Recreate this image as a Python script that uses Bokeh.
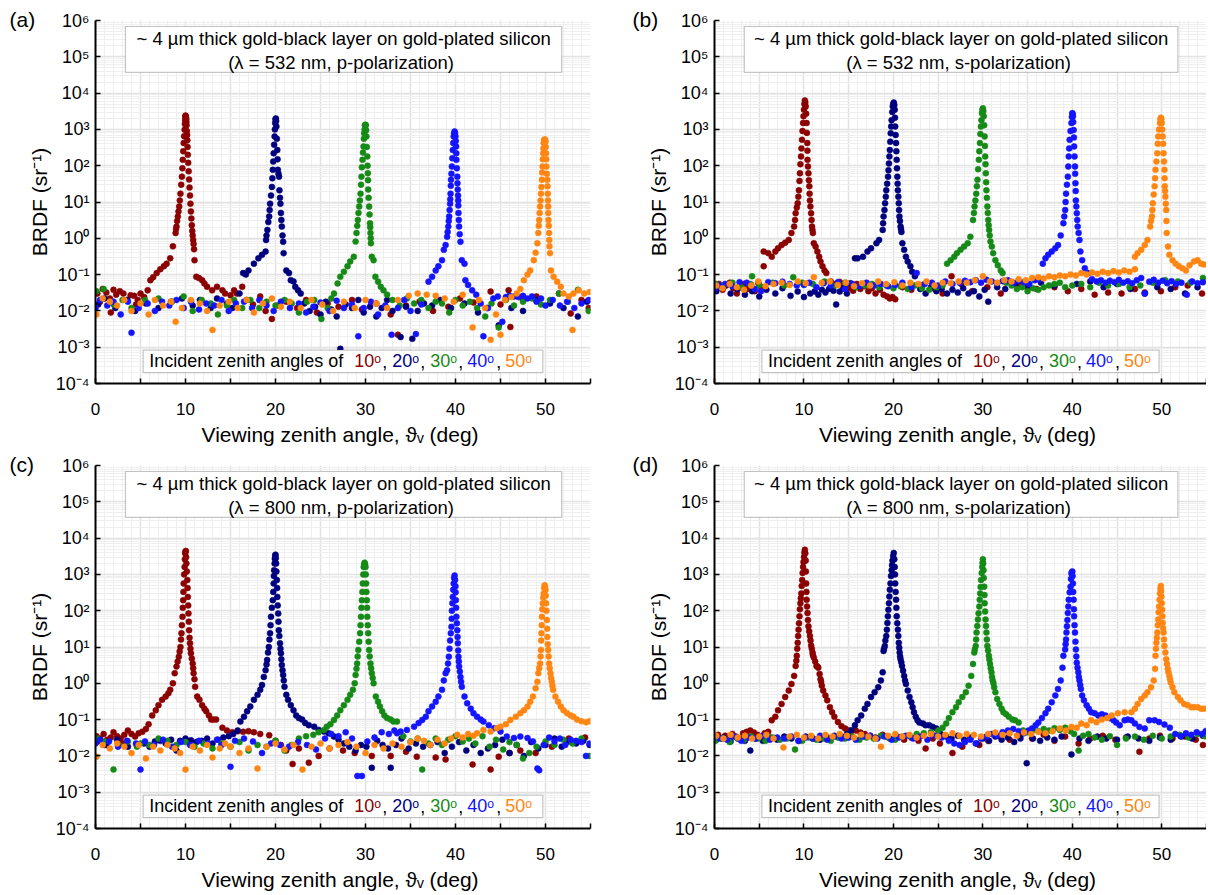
from bokeh.plotting import figure
from bokeh.layouts import column, row
from bokeh.models import FixedTicker, CustomJSTickFormatter, Label, BoxAnnotation, Range1d
from bokeh.embed import file_html
from bokeh.resources import INLINE

FONT = "Liberation Sans"

# ---------------- categories / labels ----------------
incident_angles = ["10ᵒ", "20ᵒ", "30ᵒ", "40ᵒ", "50ᵒ"]
series_colors = ["#8b0000", "#00007f", "#168a16", "#1414ff", "#ff8612"]
panel_letters = ["(a)", "(b)", "(c)", "(d)"]
title_line = "~ 4 µm thick gold-black layer on gold-plated silicon"
panel_conditions = ["(λ = 532 nm,  p-polarization)", "(λ = 532 nm,  s-polarization)",
                    "(λ = 800 nm,  p-polarization)", "(λ = 800 nm,  s-polarization)"]
legend_prefix = "Incident zenith angles of"
x_label = "Viewing zenith angle, ϑᵥ  (deg)"
y_label = "BRDF (sr⁻¹)"
x_tick_values = [0, 5, 10, 15, 20, 25, 30, 35, 40, 45, 50, 55]
x_tick_labels = ["0", "", "10", "", "20", "", "30", "", "40", "", "50", ""]
y_tick_values = [1e-4, 1e-3, 1e-2, 1e-1, 1e0, 1e1, 1e2, 1e3, 1e4, 1e5, 1e6]
y_tick_labels = ["10⁻⁴", "10⁻³", "10⁻²", "10⁻¹", "10⁰", "10¹", "10²", "10³", "10⁴", "10⁵", "10⁶"]

# ---------------- data: (viewing angle deg, BRDF sr^-1) ----------------
# Panel (a): 532 nm, p-polarization
a_10 = [(0.2,0.030),(0.5,0.018),(0.8,0.040),(1.2,0.032),(1.6,0.022),(2.0,0.038),(2.3,0.028),(2.7,0.035),(3.1,0.030),(3.5,0.020),(3.9,0.027),(4.3,0.026),(4.7,0.020),(5.0,0.030),(5.4,0.024),(5.8,0.037),(1.7,0.0090),(4.5,0.015),
        (6.1,0.07),(6.4,0.085),(6.8,0.11),(7.2,0.14),(7.6,0.17),(7.9,0.20),(8.3,0.28),(8.6,0.60),
        (8.9,1.4),(9.0,2.1),(9.15,4.0),(9.3,7.5),(9.44,17),(9.6,50),(9.7,145),(9.8,420),(9.9,980),(9.96,1800),(10.0,2400),(10.05,2100),(10.1,1600),(10.15,900),(10.2,500),(10.26,200),(10.35,70),(10.45,25),(10.55,9),(10.65,3.5),(10.75,1.6),(10.85,0.9),(10.95,0.5),
        (11.0,0.25),(11.2,0.087),(11.5,0.08),(11.85,0.07),(12.1,0.057),(12.4,0.046),(12.96,0.037),(13.5,0.046),(14.1,0.037),(14.4,0.03),(15.0,0.027),(15.4,0.037),(15.7,0.03),(16.3,0.046),(16.8,0.02),
        (17.5,0.015),(18.3,0.025),(18.9,0.010),(19.6,0.006),(20.3,0.014),(21.2,0.018),(22.4,0.012),(23.4,0.020),(24.6,0.009),(25.8,0.016),(27.0,0.013),(28.5,0.020),(29.6,0.011),(31.2,0.016),(32.8,0.008),(33.6,0.0022),(34.5,0.014),(36.0,0.018),(37.5,0.010),(39.2,0.013),(40.5,0.022),(42.0,0.017),(43.9,0.034),(45.0,0.015),(45.9,0.037),(46.1,0.0036),(47.5,0.020),(49.0,0.025),(51.5,0.030),(52.8,0.0085),(54.0,0.020),(54.8,0.012)]
a_10_core = [(8.95,1.8),(9.07,3.0),(9.22,5.5),(9.37,11),(9.52,30),(9.65,85),(9.75,250),(9.85,650),(9.93,1400),(9.98,2200),(10.03,2300),(10.08,1900),(10.12,1300),(10.18,700),(10.23,330),(10.3,120),(10.4,42),(10.5,15),(10.6,5.5),(10.7,2.3),(10.8,1.2),(10.9,0.7)]
a_20 = [(0.3,0.015),(1.0,0.022),(2.2,0.012),(3.5,0.020),(4.4,0.010),(5.6,0.016),(7.0,0.012),(8.4,0.018),(9.6,0.022),(10.8,0.014),(11.6,0.020),(12.8,0.012),(13.5,0.022),(14.6,0.016),(15.2,0.012),
        (16.0,0.03),(16.4,0.11),(16.7,0.10),(17.0,0.13),(17.6,0.20),(18.1,0.28),(18.5,0.35),(18.9,0.43),
        (18.95,0.9),(19.1,1.7),(19.3,4.0),(19.4,9),(19.6,26),(19.7,77),(19.8,220),(19.9,640),(19.96,1500),(20.04,2000),(20.1,1200),(20.2,270),(20.26,77),(20.4,50),(20.44,21),(20.55,9),(20.6,5),(20.7,2.1),(20.85,0.8),(20.9,0.39),
        (21.2,0.13),(21.5,0.11),(21.7,0.07),(22.0,0.065),(22.2,0.046),(22.5,0.037),(22.8,0.030),
        (23.2,0.016),(23.8,0.010),(24.4,0.013),(25.0,0.008),(25.6,0.018),(26.2,0.011),(26.8,0.007),(27.2,0.0009),(27.8,0.015),(28.5,0.012),(29.2,0.020),(29.8,0.009),(30.5,0.013),(31.2,0.007),(31.8,0.012),(32.4,0.020),(33.0,0.010),(33.9,0.0019),(34.5,0.013),(35.2,0.0017),(35.8,0.010),(36.5,0.016),(37.4,0.014),(38.3,0.020),(39.5,0.012),(41.0,0.016),(42.5,0.009),(43.5,0.012),(44.8,0.004),(46.2,0.012),(47.5,0.010),(49.0,0.020),(50.5,0.016),(52.0,0.012),(53.6,0.007),(54.6,0.018)]
a_20_core = [(19.0,1.2),(19.2,2.8),(19.35,6),(19.5,15),(19.65,45),(19.75,130),(19.85,380),(19.93,1000),(20.0,1900),(20.07,1700),(20.15,550),(20.23,150),(20.33,60),(20.5,13),(20.65,3.2),(20.78,1.2)]
a_30 = [(0.1,0.035),(0.9,0.040),(2.0,0.015),(3.0,0.020),(4.0,0.012),(5.5,0.020),(7.0,0.022),(8.5,0.018),(9.8,0.025),(10.8,0.010),(11.8,0.020),(12.8,0.016),(13.6,0.008),(14.6,0.014),(15.4,0.020),(16.3,0.012),(17.2,0.020),(18.2,0.012),(19.0,0.018),(20.0,0.014),(21.0,0.020),(21.8,0.016),(22.6,0.009),(23.5,0.018),(24.3,0.020),(25.1,0.006),(25.8,0.012),(26.2,0.022),
        (26.5,0.03),(26.9,0.057),(27.2,0.087),(27.6,0.12),(28.0,0.17),(28.3,0.23),(28.7,0.31),(28.9,0.81),
        (29.0,1.4),(29.15,3.2),(29.3,7.5),(29.45,17),(29.55,50),(29.67,145),(29.78,340),(29.85,780),(29.93,1300),(30.04,1300),(30.1,640),(30.2,180),(30.26,62),(30.3,22),(30.4,7.5),(30.5,2.6),(30.55,1.4),(30.6,0.73),(30.7,0.31),
        (30.9,0.25),(31.1,0.087),(31.4,0.064),(31.7,0.046),(32.0,0.037),(32.4,0.028),
        (33.0,0.020),(33.8,0.014),(34.6,0.022),(35.4,0.016),(36.2,0.020),(37.0,0.012),(37.8,0.018),(38.5,0.016),(39.3,0.009),(40.0,0.020),(40.8,0.014),(41.6,0.018),(42.4,0.012),(43.3,0.007),(44.0,0.016),(44.8,0.0035),(45.6,0.020),(46.5,0.014),(47.5,0.018),(48.5,0.022),(49.5,0.015),(50.5,0.020),(51.5,0.030),(52.5,0.018),(53.6,0.038),(54.8,0.010)]
a_30_core = [(29.08,2.2),(29.22,5),(29.38,11),(29.5,30),(29.6,90),(29.72,230),(29.82,550),(29.9,1000),(29.98,1350),(30.07,950),(30.15,330),(30.23,100),(30.28,40),(30.35,13),(30.45,4.5),(30.52,2.0),(30.58,1.0)]
a_40 = [(0.0,0.012),(0.5,0.020),(1.3,0.014),(2.0,0.018),(2.8,0.008),(3.6,0.018),(4.0,0.0025),(4.8,0.012),(5.8,0.016),(6.6,0.010),(7.4,0.018),(8.2,0.014),(9.0,0.020),(9.8,0.012),(10.6,0.018),(11.5,0.011),(12.3,0.016),(13.2,0.014),(14.0,0.020),(14.8,0.010),(15.6,0.016),(16.5,0.018),(17.4,0.012),(18.2,0.020),(19.0,0.014),(19.8,0.010),(20.6,0.018),(21.6,0.012),(22.6,0.016),(23.4,0.009),(24.2,0.013),(25.0,0.017),(26.0,0.010),(26.8,0.019),(27.6,0.012),(28.5,0.015),(29.2,0.0020),(29.8,0.012),(30.6,0.018),(31.4,0.008),(32.2,0.014),(32.9,0.0022),(33.6,0.012),(34.3,0.020),(35.0,0.010),(35.6,0.0023),(36.2,0.015),
        (37.0,0.064),(37.4,0.087),(37.8,0.13),(38.1,0.17),(38.5,0.25),(38.7,0.48),(38.9,0.65),
        (39.07,1.1),(39.2,2.1),(39.3,4),(39.4,9),(39.45,17),(39.5,41),(39.6,95),(39.7,270),(39.8,640),(39.9,880),(40.0,640),(40.07,340),(40.1,145),(40.2,50),(40.25,22),(40.3,11),(40.33,5),(40.4,2.1),(40.55,0.8),(40.7,0.25),
        (41.0,0.20),(41.1,0.07),(41.4,0.052),(41.85,0.037),(42.3,0.028),
        (42.8,0.016),(43.1,0.0020),(43.6,0.012),(44.2,0.022),(44.7,0.025),(45.2,0.005),(45.6,0.024),(46.0,0.026),(46.5,0.025),(47.0,0.024),(47.5,0.026),(48.0,0.022),(48.5,0.025),(49.0,0.018),(49.5,0.022),(50.0,0.014),(50.8,0.020),(51.6,0.014),(52.4,0.018),(53.2,0.012),(54.0,0.016),(54.8,0.020)]
a_40_core = [(39.13,1.5),(39.25,3),(39.35,6),(39.42,12),(39.48,28),(39.55,60),(39.65,160),(39.75,420),(39.85,780),(39.95,800),(40.03,480),(40.09,220),(40.15,85),(40.22,33),(40.28,15),(40.31,8),(40.37,3.2),(40.47,1.3)]
a_50 = [(0.1,0.008),(0.8,0.022),(1.6,0.018),(2.4,0.014),(3.2,0.020),(4.0,0.010),(5.0,0.016),(5.9,0.008),(6.6,0.020),(7.5,0.014),(8.4,0.018),(8.9,0.005),(9.6,0.012),(10.6,0.020),(11.6,0.016),(12.4,0.010),(13.0,0.0030),(13.8,0.014),(14.8,0.018),(15.8,0.012),(16.8,0.020),(17.6,0.009),(18.6,0.016),(19.6,0.022),(20.6,0.013),(21.6,0.018),(22.8,0.012),(24.0,0.020),(25.2,0.015),(26.4,0.010),(27.6,0.018),(28.8,0.012),(30.0,0.020),(31.2,0.016),(32.4,0.012),(33.6,0.020),(34.8,0.026),(35.8,0.030),(36.8,0.028),(37.8,0.026),(38.8,0.022),(39.8,0.018),(40.8,0.028),(41.9,0.0035),(42.6,0.020),(43.3,0.012),(43.9,0.0016),(44.5,0.008),(45.0,0.0022),(45.5,0.020),(46.2,0.024),(46.8,0.030),(47.2,0.040),
        (47.6,0.07),(48.0,0.10),(48.3,0.13),(48.7,0.25),(48.9,0.40),(49.1,0.73),
        (49.2,1.4),(49.3,3.2),(49.4,7.5),(49.5,17),(49.6,41),(49.67,95),(49.74,220),(49.8,420),(49.9,530),(50.0,460),(50.07,220),(50.1,95),(50.2,41),(50.26,17),(50.3,7.5),(50.33,3.2),(50.4,1.4),(50.44,0.6),(50.5,0.39),(50.6,0.13),
        (50.9,0.087),(51.3,0.064),(51.7,0.046),(52.0,0.030),(52.6,0.025),(53.1,0.030),(53.7,0.037),(54.3,0.030),(54.9,0.033),(53.0,0.003)]
a_50_core = [(49.25,2.2),(49.35,5),(49.45,11),(49.55,26),(49.63,65),(49.7,150),(49.77,300),(49.85,500),(49.95,520),(50.03,330),(50.09,150),(50.15,60),(50.23,27),(50.28,11),(50.31,5),(50.37,2.2),(50.42,0.9)]

# Panel (b): 532 nm, s-polarization
b_10 = [(0.1,0.045),(0.5,0.055),(0.9,0.038),(1.3,0.050),(1.7,0.060),(2.1,0.042),(2.5,0.030),(2.9,0.048),(3.3,0.055),(3.7,0.040),(4.1,0.052),(4.5,0.035),(4.9,0.058),(5.2,0.046),
        (5.5,0.17),(5.5,0.43),(6.0,0.39),(6.4,0.31),(6.8,0.43),(7.1,0.53),(7.5,0.65),(7.9,0.76),(8.3,0.9),(8.6,1.4),(8.9,2.1),
        (9.07,4.9),(9.3,9.2),(9.44,21),(9.55,62),(9.67,180),(9.78,515),(9.9,1500),(10.0,3500),(10.1,6300),(10.2,4300),(10.3,1500),(10.37,420),(10.4,145),(10.5,62),(10.6,27),(10.67,11),(10.8,4.9),(10.9,2.1),(11.0,1.4),(11.1,0.73),(11.3,0.59),(11.5,0.43),(11.7,0.31),(11.85,0.23),(12.07,0.17),(12.3,0.13),(12.5,0.11),
        (13.0,0.065),(13.5,0.055),(14.0,0.063),(14.4,0.050),(14.8,0.042),(15.1,0.043),(15.5,0.036),(15.9,0.055),(16.3,0.040),(16.8,0.048),(17.2,0.035),(17.6,0.042),(18.0,0.030),(18.5,0.038),(18.9,0.028),(19.3,0.025),(19.6,0.022),(19.9,0.024),(20.2,0.021),(21.0,0.045),(22.0,0.038),(23.2,0.050),(24.5,0.042),(25.5,0.030),(26.5,0.090),(27.6,0.055),(28.8,0.035),(30.5,0.045),(32.0,0.030),(34.0,0.055),(36.0,0.040),(38.0,0.045),(39.5,0.035),(41.0,0.040),(42.5,0.028),(44.0,0.032),(45.5,0.030),(47.0,0.040),(48.1,0.032),(49.9,0.035),(51.5,0.045),(52.9,0.050),(54.5,0.030)]
b_10_core = [(9.0,3.2),(9.2,7),(9.37,14),(9.5,38),(9.6,110),(9.72,300),(9.84,900),(9.95,2300),(10.05,5000),(10.15,5500),(10.25,2700),(10.33,800),(10.39,260),(10.45,95),(10.55,40),(10.63,17),(10.72,7.5),(10.85,3.2),(10.95,1.7)]
b_20 = [(0.2,0.035),(1.0,0.045),(1.8,0.030),(2.6,0.040),(3.4,0.028),(4.2,0.035),(5.0,0.025),(5.8,0.038),(6.8,0.030),(7.6,0.042),(8.5,0.026),(9.3,0.034),(10.0,0.024),(10.7,0.030),(11.2,0.034),(11.6,0.028),(12.0,0.038),(12.4,0.032),(12.8,0.040),(13.3,0.036),(13.6,0.015),(14.0,0.034),(14.4,0.042),(14.8,0.030),(15.2,0.058),
        (15.7,0.28),(16.0,0.28),(16.6,0.31),(17.1,0.43),(17.5,0.53),(18.1,0.73),(18.4,0.9),(18.8,1.7),
        (18.9,4),(19.07,9.2),(19.2,21),(19.4,50),(19.5,115),(19.6,270),(19.7,780),(19.8,1800),(19.93,4300),(20.04,5500),(20.15,3500),(20.2,1200),(20.3,420),(20.37,145),(20.44,50),(20.5,21),(20.6,9.2),(20.67,4),(20.8,2.1),(20.9,1.5),(21.0,0.73),(21.2,0.48),(21.4,0.31),(21.6,0.23),(21.9,0.17),(22.1,0.12),(22.4,0.09),
        (23.0,0.040),(23.6,0.030),(24.2,0.045),(24.8,0.035),(25.4,0.040),(26.0,0.030),(26.6,0.038),(27.2,0.032),(27.8,0.042),(28.4,0.030),(29.0,0.035),(29.6,0.025),(30.2,0.038),(30.6,0.018),(31.6,0.045),(32.5,0.040),(33.6,0.055),(35.0,0.045),(36.5,0.060),(38.0,0.050),(40.5,0.055),(42.0,0.065),(43.5,0.045),(45.0,0.055),(46.5,0.040),(48.1,0.030),(49.5,0.045),(51.0,0.040),(52.6,0.030),(54.0,0.045)]
b_20_core = [(18.85,2.6),(19.0,6),(19.15,14),(19.3,32),(19.45,75),(19.55,180),(19.65,460),(19.75,1200),(19.87,3000),(19.98,5000),(20.1,4700),(20.18,2100),(20.25,700),(20.33,250),(20.4,85),(20.47,32),(20.55,14),(20.63,6),(20.73,3),(20.85,1.8)]
b_30 = [(0.2,0.055),(1.0,0.050),(2.0,0.060),(3.0,0.045),(4.0,0.055),(4.2,0.090),(5.0,0.052),(6.5,0.060),(7.8,0.050),(8.8,0.085),(9.8,0.060),(11.0,0.055),(12.3,0.065),(13.5,0.050),(14.6,0.060),(15.8,0.045),(16.8,0.050),(17.6,0.055),(18.4,0.045),(19.2,0.050),(20.0,0.042),(20.8,0.048),(21.6,0.040),(22.4,0.050),(23.2,0.042),(24.0,0.038),(24.8,0.045),(25.5,0.050),
        (26.0,0.20),(26.4,0.25),(26.8,0.31),(27.1,0.39),(27.5,0.48),(27.9,0.59),(28.3,0.73),(28.6,1.1),(28.9,3.2),
        (29.07,7.5),(29.26,17),(29.4,41),(29.55,145),(29.67,420),(29.78,1200),(29.9,2800),(30.0,3800),(30.1,2300),(30.2,640),(30.26,180),(30.33,62),(30.4,21),(30.5,7.5),(30.6,3.2),(30.7,1.7),(30.85,0.81),(31.0,0.59),(31.15,0.39),(31.4,0.25),(31.67,0.18),(32.0,0.13),(32.2,0.11),
        (32.6,0.060),(33.2,0.050),(33.8,0.040),(34.4,0.045),(35.0,0.035),(35.6,0.042),(36.2,0.038),(36.8,0.045),(37.4,0.050),(38.0,0.055),(38.6,0.060),(39.2,0.045),(40.0,0.050),(41.0,0.055),(42.0,0.045),(43.0,0.060),(44.0,0.050),(45.2,0.055),(46.4,0.045),(47.6,0.050),(49.0,0.060),(50.4,0.070),(51.8,0.065),(53.2,0.060),(54.6,0.080)]
b_30_core = [(29.0,5),(29.16,11),(29.33,27),(29.47,80),(29.6,250),(29.72,750),(29.84,1800),(29.95,3400),(30.05,3200),(30.15,1300),(30.23,350),(30.3,110),(30.37,35),(30.45,13),(30.55,5),(30.65,2.3),(30.77,1.2)]
b_40 = [(0.0,0.040),(0.5,0.050),(1.2,0.055),(2.0,0.048),(2.8,0.062),(3.6,0.060),(4.5,0.040),(5.2,0.035),(6.0,0.062),(6.8,0.058),(7.6,0.064),(8.4,0.055),(9.2,0.050),(10.0,0.052),(10.6,0.060),(11.4,0.045),(12.2,0.058),(13.0,0.050),(13.8,0.062),(14.6,0.040),(15.4,0.055),(16.2,0.048),(17.0,0.060),(17.8,0.050),(18.6,0.055),(19.4,0.048),(20.2,0.052),(21.0,0.060),(22.0,0.045),(22.6,0.11),(23.5,0.055),(24.3,0.060),(25.0,0.050),(25.8,0.065),(26.6,0.055),(27.4,0.060),(28.0,0.068),(28.6,0.062),(29.2,0.070),(29.8,0.060),(30.4,0.072),(31.0,0.065),(31.6,0.058),(32.2,0.066),(32.8,0.070),(33.4,0.060),(34.0,0.068),(34.6,0.062),(35.2,0.055),(35.8,0.070),(36.3,0.072),
        (36.7,0.20),(37.0,0.28),(37.3,0.35),(37.7,0.43),(38.1,0.53),(38.4,0.65),(38.7,1.2),(39.0,2.6),
        (39.2,6),(39.3,17),(39.5,50),(39.6,180),(39.7,515),(39.9,1500),(40.0,2800),(40.07,2300),(40.15,960),(40.2,340),(40.3,95),(40.35,33),(40.4,11),(40.5,4.9),(40.6,2.1),(40.8,0.9),(40.9,0.43),(41.1,0.25),(41.4,0.15),(41.8,0.11),
        (42.2,0.075),(42.7,0.065),(43.2,0.070),(43.7,0.060),(44.2,0.068),(44.7,0.062),(45.2,0.072),(45.7,0.060),(46.2,0.066),(46.7,0.058),(47.2,0.070),(47.7,0.080),(48.1,0.030),(48.6,0.064),(49.1,0.072),(49.6,0.060),(50.1,0.068),(50.6,0.058),(51.1,0.066),(51.6,0.055),(52.2,0.060),(52.8,0.028),(53.4,0.065),(54.0,0.058),(54.6,0.062)]
b_40_core = [(39.1,4),(39.25,10),(39.4,30),(39.55,95),(39.65,300),(39.8,900),(39.95,2200),(40.03,2700),(40.1,1600),(40.18,600),(40.25,180),(40.32,60),(40.38,20),(40.45,7.5),(40.55,3.2),(40.7,1.4)]
b_50 = [(0.2,0.050),(0.9,0.042),(1.7,0.055),(2.5,0.045),(3.3,0.038),(4.1,0.050),(4.9,0.065),(5.7,0.048),(6.6,0.055),(7.5,0.060),(8.4,0.052),(9.3,0.065),(10.2,0.058),(11.1,0.085),(12.0,0.060),(12.9,0.065),(13.8,0.052),(14.7,0.060),(15.6,0.048),(16.5,0.058),(17.4,0.050),(18.3,0.065),(19.2,0.055),(20.1,0.062),(21.0,0.050),(21.9,0.060),(22.8,0.055),(23.7,0.065),(24.6,0.050),(25.5,0.060),(26.4,0.058),(27.3,0.065),(28.2,0.060),(29.1,0.070),(30.0,0.090),(30.8,0.065),(31.6,0.060),(32.4,0.070),(33.2,0.065),(34.0,0.075),(34.8,0.070),(35.5,0.080),(36.2,0.085),(36.8,0.078),(37.4,0.090),(38.0,0.085),(38.6,0.095),(39.2,0.090),(39.8,0.100),(40.4,0.095),(41.0,0.110),(41.6,0.100),(42.2,0.115),(42.8,0.105),(43.4,0.120),(44.0,0.110),(44.6,0.125),(45.2,0.115),(45.8,0.130),(46.4,0.120),(47.0,0.140),
        (47.0,0.31),(47.3,0.39),(47.7,0.48),(48.1,0.65),(48.4,0.9),(48.7,2.1),
        (48.9,4),(49.0,9.2),(49.2,27),(49.3,77),(49.5,220),(49.6,640),(49.8,1500),(49.9,2100),(50.0,1500),(50.1,640),(50.2,220),(50.3,77),(50.33,27),(50.4,14),(50.5,6),(50.55,1.4),(50.7,0.59),(50.85,0.35),(51.2,0.25),(51.55,0.2),(51.9,0.17),(52.3,0.15),(52.7,0.13),(53.1,0.18),(53.6,0.23),(54.0,0.25),(54.4,0.2),(54.7,0.19)]
b_50_core = [(48.8,3),(48.95,6),(49.1,16),(49.25,45),(49.4,130),(49.55,400),(49.7,1000),(49.85,1900),(49.95,1900),(50.05,1000),(50.15,400),(50.25,130),(50.31,45),(50.37,20),(50.45,9),(50.52,3)]

# Panel (c): 800 nm, p-polarization
c_10 = [(0.1,0.035),(0.5,0.030),(0.9,0.040),(1.3,0.028),(1.7,0.032),(2.0,0.045),(2.4,0.035),(2.8,0.030),(3.2,0.038),(3.6,0.050),(4.0,0.040),(4.4,0.034),(4.8,0.042),(5.2,0.046),(5.6,0.055),(1.0,0.020),(3.0,0.022),
        (5.9,0.074),(6.3,0.13),(6.7,0.18),(7.0,0.25),(7.4,0.35),(7.8,0.43),(8.1,0.53),(8.3,0.66),(8.6,1.0),(8.8,1.9),(9.0,2.9),
        (9.26,5.4),(9.44,10),(9.55,24),(9.67,68),(9.74,195),(9.8,560),(9.9,1600),(9.96,3800),(10.04,4400),(10.1,2000),(10.2,700),(10.26,240),(10.33,84),(10.4,29),(10.5,12.6),(10.6,6.7),(10.8,3.5),(10.9,1.9),(11.07,0.8),(11.3,0.43),(11.55,0.35),(11.85,0.25),(12.1,0.2),(12.3,0.17),(12.6,0.13),(12.85,0.10),(13.1,0.10),(13.4,0.10),
        (14.1,0.060),(14.6,0.050),(15.2,0.045),(15.8,0.048),(16.4,0.046),(17.0,0.048),(17.6,0.045),(18.3,0.040),(19.3,0.037),(20.0,0.026),(20.6,0.020),(21.2,0.014),(21.9,0.0060),(22.6,0.016),(23.7,0.0065),(24.8,0.010),(26.0,0.016),(27.5,0.014),(28.8,0.012),(30.7,0.010),(32.8,0.010),(34.5,0.013),(35.7,0.0095),(37.8,0.009),(38.9,0.008),(41.9,0.0058),(43.9,0.0042),(44.8,0.0095),(46.0,0.012),(47.2,0.014),(48.9,0.012),(50.7,0.018),(52.6,0.030),(54.4,0.032)]
c_10_core = [(9.13,4),(9.35,7.5),(9.5,16),(9.6,40),(9.7,120),(9.77,330),(9.85,1000),(9.93,2600),(10.0,4300),(10.07,3000),(10.15,1200),(10.23,420),(10.3,140),(10.37,50),(10.45,18),(10.55,9),(10.7,4.8),(10.85,2.6),(11.0,1.3)]
c_20 = [(0.2,0.025),(1.2,0.020),(2.4,0.028),(3.6,0.018),(4.6,0.020),(5.4,0.022),(6.0,0.018),(6.6,0.025),(7.2,0.026),(7.8,0.022),(8.4,0.028),(9.0,0.014),(9.4,0.026),(10.0,0.030),(10.6,0.027),(11.2,0.024),(11.8,0.026),(12.4,0.030),(13.0,0.022),(13.6,0.028),(14.2,0.032),(14.8,0.035),(15.3,0.040),(15.8,0.050),
        (16.1,0.088),(16.5,0.12),(16.85,0.17),(17.2,0.23),(17.6,0.35),(18.0,0.48),(18.3,0.66),(18.5,0.9),(18.7,1.5),(18.9,2.3),
        (19.07,4.4),(19.26,10),(19.4,24),(19.5,68),(19.7,195),(19.8,560),(19.85,1300),(19.93,2700),(20.0,3500),(20.07,2000),(20.15,700),(20.2,240),(20.3,84),(20.37,29),(20.5,12.6),(20.6,6.7),(20.7,3.2),(20.85,1.7),(21.0,0.8),(21.2,0.48),(21.4,0.35),(21.7,0.25),(22.0,0.18),(22.3,0.13),(22.6,0.11),(22.96,0.10),(23.3,0.08),(23.7,0.07),(24.3,0.064),(24.8,0.052),(25.4,0.047),(25.9,0.042),(26.5,0.034),(27.0,0.028),(27.6,0.022),(28.2,0.018),
        (28.9,0.014),(29.5,0.020),(30.1,0.018),(30.7,0.0047),(31.3,0.026),(31.9,0.020),(32.5,0.016),(32.8,0.0047),(33.4,0.020),(34.0,0.030),(34.8,0.016),(35.6,0.022),(36.4,0.018),(37.2,0.020),(38.0,0.024),(38.8,0.012),(39.6,0.018),(40.4,0.024),(41.2,0.014),(42.0,0.020),(42.8,0.012),(43.6,0.016),(44.4,0.020),(45.2,0.028),(46.0,0.012),(46.8,0.020),(47.6,0.010),(48.4,0.024),(49.2,0.016),(50.0,0.020),(51.0,0.030),(51.8,0.018),(52.6,0.025),(53.4,0.022),(54.2,0.026),(54.9,0.020)]
c_20_core = [(19.0,3.3),(19.17,7),(19.33,16),(19.45,40),(19.6,120),(19.75,330),(19.82,900),(19.9,2000),(19.97,3300),(20.03,2800),(20.1,1200),(20.18,420),(20.25,140),(20.33,50),(20.43,20),(20.55,9),(20.65,4.6),(20.78,2.3),(20.92,1.2)]
c_30 = [(0.2,0.030),(1.0,0.025),(2.0,0.0042),(2.6,0.020),(3.6,0.025),(4.6,0.018),(5.0,0.022),(6.0,0.020),(7.0,0.030),(8.0,0.026),(9.0,0.020),(10.0,0.024),(11.0,0.018),(12.0,0.022),(13.0,0.016),(14.0,0.022),(15.0,0.018),(16.0,0.024),(17.0,0.014),(18.0,0.020),(19.0,0.018),(20.0,0.026),(21.0,0.014),(21.8,0.020),(22.6,0.030),(23.4,0.035),(24.2,0.038),(24.8,0.045),
        (25.4,0.052),(25.7,0.064),(26.1,0.075),(26.5,0.098),(26.85,0.13),(27.2,0.18),(27.6,0.25),(28.0,0.35),(28.3,0.48),(28.6,0.66),(28.8,1.0),(28.9,1.7),
        (29.07,3.5),(29.2,8.3),(29.4,24),(29.5,68),(29.6,195),(29.7,560),(29.8,1600),(29.9,2100),(30.0,1600),(30.07,560),(30.15,195),(30.2,68),(30.3,24),(30.4,8.3),(30.55,3.5),(30.7,1.9),(30.9,1.0),(31.15,0.43),(31.4,0.31),(31.6,0.23),(31.85,0.17),(32.1,0.13),(32.4,0.11),(32.8,0.10),(33.1,0.088),(33.5,0.088),
        (34.2,0.035),(35.0,0.025),(35.8,0.030),(36.3,0.0042),(37.0,0.022),(37.8,0.030),(38.5,0.020),(39.2,0.028),(40.0,0.035),(40.8,0.025),(41.5,0.030),(42.2,0.022),(43.0,0.035),(43.8,0.018),(44.5,0.028),(45.3,0.015),(46.0,0.024),(46.8,0.020),(47.5,0.0085),(48.2,0.012),(49.0,0.018),(50.0,0.025),(51.0,0.020),(52.0,0.028),(53.0,0.022),(54.0,0.030),(54.9,0.010)]
c_30_core = [(29.0,2.5),(29.13,5.5),(29.3,14),(29.45,40),(29.55,120),(29.65,330),(29.75,1000),(29.85,1900),(29.95,1900),(30.03,1000),(30.1,330),(30.18,120),(30.25,40),(30.35,14),(30.47,5.5),(30.62,2.6),(30.8,1.4)]
c_40 = [(0.0,0.022),(0.5,0.028),(1.5,0.025),(2.5,0.018),(3.5,0.026),(4.5,0.022),(5.0,0.0042),(5.5,0.025),(6.5,0.020),(7.5,0.028),(8.5,0.018),(9.5,0.024),(10.5,0.020),(11.5,0.026),(12.5,0.022),(13.5,0.028),(14.0,0.020),(15.0,0.0050),(15.5,0.026),(16.5,0.030),(17.5,0.025),(18.5,0.012),(19.5,0.022),(20.5,0.020),(21.5,0.018),(22.5,0.024),(23.5,0.020),(24.5,0.015),(25.5,0.030),(26.2,0.040),(27.0,0.035),(27.8,0.045),(28.5,0.030),(29.1,0.0028),(29.6,0.0028),(30.2,0.025),(31.0,0.032),(31.8,0.045),(32.6,0.040),(33.2,0.050),
        (33.5,0.042),(33.9,0.047),(34.6,0.052),(35.4,0.064),(35.9,0.08),(36.3,0.098),(36.7,0.12),(37.0,0.17),(37.4,0.23),(37.8,0.31),(38.1,0.43),(38.5,0.66),(38.7,1.2),(38.9,1.9),(39.07,2.3),
        (39.26,5.4),(39.4,15),(39.55,36),(39.6,100),(39.7,240),(39.8,560),(39.9,930),(40.0,470),(40.04,195),(40.1,68),(40.2,29),(40.26,12.6),(40.33,5.4),(40.4,2.9),(40.55,1.5),(40.7,0.8),(41.0,0.43),(41.3,0.28),(41.7,0.2),(42.0,0.15),(42.4,0.12),(42.8,0.10),(43.1,0.088),(43.7,0.07),(44.3,0.058),(45.0,0.047),(45.7,0.034),(46.5,0.031),(47.2,0.034),(48.0,0.031),
        (48.6,0.025),(49.1,0.0045),(49.3,0.0040),(49.8,0.020),(50.4,0.032),(51.0,0.025),(51.6,0.030),(52.2,0.020),(52.8,0.028),(53.4,0.026),(54.0,0.024),(54.5,0.010),(54.9,0.022)]
c_40_core = [(39.17,3.5),(39.33,9),(39.48,24),(39.58,60),(39.65,160),(39.75,380),(39.85,800),(39.95,700),(40.02,320),(40.07,120),(40.15,45),(40.23,19),(40.3,8),(40.37,4),(40.48,2.1),(40.62,1.1)]
c_50 = [(0.1,0.0095),(0.8,0.020),(1.6,0.016),(2.4,0.022),(3.2,0.018),(4.0,0.012),(4.8,0.020),(5.6,0.0085),(6.4,0.018),(7.2,0.014),(8.0,0.020),(8.8,0.016),(9.4,0.012),(10.0,0.0042),(10.8,0.018),(11.6,0.014),(12.4,0.020),(13.0,0.0090),(13.8,0.016),(14.4,0.022),(15.0,0.018),(16.0,0.012),(17.0,0.016),(18.0,0.0045),(19.0,0.018),(20.0,0.022),(21.0,0.015),(22.0,0.020),(23.0,0.0042),(24.0,0.018),(25.0,0.022),(26.0,0.016),(27.0,0.020),(28.0,0.024),(29.0,0.018),(30.0,0.012),(31.0,0.020),(32.0,0.016),(33.0,0.022),(34.0,0.018),(35.0,0.024),(35.8,0.030),(36.5,0.026),(37.2,0.020),(38.0,0.028),(38.8,0.022),(39.5,0.030),(40.2,0.038),(40.8,0.032),(41.4,0.040),(42.0,0.036),
        (42.4,0.042),(43.1,0.052),(43.9,0.047),(44.6,0.058),(45.0,0.064),(45.6,0.075),(46.1,0.098),(46.7,0.12),(47.2,0.15),(47.6,0.18),(48.0,0.23),(48.3,0.31),(48.6,0.43),(48.9,0.73),(49.1,1.1),(49.2,1.9),
        (49.4,3.5),(49.5,8.3),(49.55,24),(49.6,68),(49.7,160),(49.8,300),(49.9,500),(50.0,370),(50.07,160),(50.15,55),(50.2,19),(50.3,8.3),(50.4,3.5),(50.55,1.9),(50.7,1.1),(50.85,0.66),(51.1,0.43),(51.4,0.31),(51.7,0.23),(52.0,0.18),(52.4,0.15),(52.8,0.13),(53.1,0.12),(53.5,0.10),(54.0,0.09),(54.5,0.085),(54.9,0.09)]
c_50_core = [(49.3,2.6),(49.45,5.5),(49.52,15),(49.58,40),(49.65,110),(49.75,230),(49.85,420),(49.95,450),(50.03,260),(50.1,100),(50.18,32),(50.25,12),(50.35,5.5),(50.47,2.6),(50.62,1.4),(50.77,0.85)]

# Panel (d): 800 nm, s-polarization
d_10 = [(0.1,0.032),(0.4,0.038),(0.8,0.030),(1.2,0.036),(1.6,0.028),(2.0,0.040),(2.4,0.034),(2.8,0.030),(3.2,0.042),(3.6,0.046),(4.0,0.050),(4.4,0.044),(4.8,0.038),(5.2,0.034),(5.6,0.042),(6.0,0.046),
        (6.4,0.096),(6.8,0.12),(7.1,0.18),(7.5,0.27),(7.9,0.42),(8.3,0.63),(8.6,0.96),(8.9,1.6),(9.07,3.0),
        (9.2,5.7),(9.3,13),(9.4,30),(9.5,70),(9.6,160),(9.7,300),(9.8,700),(9.9,1600),(10.0,3000),(10.1,4800),(10.2,2400),(10.25,560),(10.3,200),(10.4,86),(10.5,37),(10.67,20),(10.8,11),(10.96,7),(11.1,5.1),(11.4,3.0),(11.6,2.7),(11.85,1.3),(12.0,0.86),(12.15,0.63),(12.4,0.46),(12.6,0.34),(12.9,0.22),(13.15,0.16),(13.4,0.12),(13.8,0.086),(14.2,0.066),(14.6,0.057),(14.9,0.051),
        (15.3,0.048),(15.8,0.050),(16.3,0.044),(16.8,0.040),(17.4,0.036),(18.0,0.032),(18.8,0.038),(19.6,0.030),(20.4,0.034),(21.2,0.028),(22.0,0.032),(22.8,0.026),(23.6,0.016),(24.4,0.030),(25.2,0.022),(26.6,0.012),(27.7,0.018),(28.6,0.030),(29.6,0.020),(30.6,0.026),(31.8,0.035),(33.0,0.028),(34.2,0.036),(35.5,0.030),(36.8,0.038),(38.0,0.026),(39.2,0.034),(40.7,0.022),(42.0,0.030),(43.4,0.036),(44.8,0.028),(46.0,0.032),(47.5,0.013),(48.6,0.030),(49.8,0.036),(51.2,0.030),(52.6,0.034),(53.8,0.028),(54.6,0.020)]
d_10_core = [(9.15,4.2),(9.25,9),(9.35,20),(9.45,45),(9.55,110),(9.65,220),(9.75,480),(9.85,1100),(9.95,2200),(10.05,4000),(10.15,3800),(10.22,1200),(10.28,330),(10.35,130),(10.45,55),(10.58,27),(10.73,15),(10.88,9),(11.0,6),(11.25,4),(11.5,2.9),(11.75,1.8),(11.92,1.1)]
d_20 = [(0.2,0.028),(1.0,0.032),(1.8,0.025),(2.6,0.030),(3.4,0.026),(4.0,0.014),(4.6,0.030),(5.4,0.026),(6.2,0.032),(7.0,0.028),(7.8,0.034),(8.6,0.030),(9.4,0.026),(10.2,0.034),(11.0,0.030),(11.8,0.028),(12.6,0.032),(13.4,0.036),(14.2,0.034),(14.8,0.040),
        (15.3,0.051),(15.7,0.07),(16.0,0.096),(16.4,0.13),(16.8,0.2),(17.1,0.27),(17.5,0.42),(17.9,0.57),(18.3,0.78),(18.6,1.2),(18.8,2.0),(18.9,7.8),
        (19.04,10.7),(19.2,20),(19.33,46),(19.44,106),(19.55,245),(19.67,565),(19.8,1300),(19.9,2400),(20.04,3900),(20.15,1600),(20.2,565),(20.3,200),(20.37,70),(20.5,30),(20.6,13),(20.7,7),(20.8,4.6),(20.96,3.0),(21.2,1.6),(21.4,0.96),(21.6,0.63),(21.8,0.42),(22.0,0.3),(22.15,0.22),(22.3,0.16),(22.5,0.12),(22.7,0.096),(22.9,0.083),(23.3,0.078),(23.6,0.07),(24.0,0.07),(24.4,0.063),(24.8,0.057),
        (25.3,0.040),(25.9,0.034),(26.5,0.030),(27.2,0.036),(27.9,0.028),(28.6,0.032),(29.3,0.022),(30.0,0.030),(30.7,0.026),(31.4,0.034),(32.1,0.028),(32.8,0.032),(33.5,0.024),(34.2,0.030),(34.9,0.0063),(35.6,0.030),(36.4,0.026),(37.2,0.032),(38.0,0.028),(38.8,0.034),(39.9,0.011),(40.8,0.030),(41.8,0.026),(42.8,0.034),(43.8,0.030),(45.0,0.028),(46.2,0.034),(47.4,0.030),(48.6,0.026),(49.8,0.032),(51.0,0.028),(52.2,0.034),(53.4,0.030),(54.6,0.036)]
d_20_core = [(18.95,9),(19.1,15),(19.27,30),(19.38,70),(19.5,160),(19.6,380),(19.73,900),(19.85,1800),(19.97,3200),(20.1,2600),(20.18,1000),(20.25,330),(20.33,120),(20.43,45),(20.55,20),(20.65,9.5),(20.75,5.5),(20.88,3.8),(21.08,2.2),(21.3,1.2)]
d_30 = [(0.1,0.026),(0.9,0.030),(1.7,0.024),(2.5,0.032),(3.3,0.028),(4.1,0.034),(4.9,0.030),(5.7,0.026),(6.5,0.032),(7.3,0.028),(8.1,0.030),(9.0,0.015),(9.8,0.026),(10.6,0.032),(11.4,0.028),(12.2,0.030),(13.0,0.026),(13.8,0.032),(14.6,0.030),(15.4,0.034),(16.2,0.028),(17.0,0.032),(17.8,0.030),(18.6,0.036),(19.4,0.032),(20.2,0.028),(21.0,0.034),(21.8,0.036),(22.6,0.040),(23.4,0.042),(24.2,0.045),(25.0,0.050),(25.5,0.060),
        (25.9,0.078),(26.2,0.11),(26.6,0.16),(27.0,0.22),(27.3,0.3),(27.7,0.42),(28.1,0.57),(28.4,0.86),(28.7,1.6),(28.9,3.4),(29.04,7),
        (29.2,10.6),(29.3,25),(29.45,57),(29.6,130),(29.7,300),(29.8,700),(29.93,1600),(30.0,2600),(30.07,1300),(30.15,460),(30.2,160),(30.3,57),(30.4,25),(30.5,10.6),(30.67,5.7),(30.8,3.4),(30.96,2.0),(31.1,1.2),(31.26,0.78),(31.4,0.57),(31.6,0.37),(31.85,0.27),(32.1,0.2),(32.3,0.16),(32.6,0.14),(32.9,0.12),(33.3,0.10),(33.6,0.096),(34.0,0.083),
        (34.5,0.050),(35.0,0.045),(35.6,0.052),(36.2,0.048),(36.8,0.055),(37.4,0.050),(38.0,0.058),(38.6,0.052),(39.2,0.060),(39.8,0.048),(40.2,0.040),(40.7,0.014),(41.2,0.036),(41.8,0.040),(42.5,0.032),(43.3,0.028),(44.2,0.035),(45.0,0.020),(46.0,0.030),(47.0,0.034),(48.0,0.028),(49.0,0.036),(50.0,0.030),(51.0,0.034),(52.0,0.038),(53.0,0.032),(54.0,0.040),(54.8,0.035)]
d_30_core = [(29.1,8.5),(29.25,16),(29.38,38),(29.52,85),(29.65,200),(29.75,450),(29.87,1100),(29.97,2100),(30.03,2000),(30.1,800),(30.18,270),(30.25,95),(30.35,38),(30.45,16),(30.58,8),(30.73,4.5),(30.88,2.6),(31.03,1.5),(31.18,1.0)]
d_40 = [(0.0,0.035),(0.6,0.030),(1.4,0.028),(2.2,0.034),(3.0,0.026),(3.8,0.032),(4.6,0.030),(5.4,0.036),(6.2,0.028),(7.0,0.032),(7.8,0.030),(8.6,0.034),(9.4,0.026),(10.2,0.032),(11.0,0.030),(11.8,0.036),(12.6,0.028),(13.4,0.034),(14.2,0.030),(15.0,0.032),(15.8,0.028),(16.6,0.034),(17.4,0.036),(18.2,0.030),(19.0,0.034),(19.8,0.028),(20.6,0.032),(21.4,0.036),(22.2,0.030),(23.0,0.034),(23.8,0.028),(24.6,0.036),(25.4,0.032),(26.2,0.026),(26.8,0.022),(27.4,0.020),(28.0,0.024),(28.6,0.028),(29.2,0.022),(29.8,0.030),(30.4,0.034),(31.0,0.040),(31.6,0.036),(32.2,0.045),(32.8,0.050),(33.4,0.055),(34.0,0.048),(34.6,0.042),(35.1,0.050),
        (35.5,0.057),(35.9,0.07),(36.2,0.083),(36.6,0.11),(37.0,0.15),(37.3,0.2),(37.7,0.3),(38.1,0.46),(38.4,0.7),(38.7,1.2),(38.9,2.7),(39.0,5.7),(39.2,8.6),
        (39.3,16),(39.4,37),(39.5,86),(39.6,200),(39.8,460),(39.9,1060),(40.0,1200),(40.07,560),(40.15,200),(40.2,70),(40.3,25),(40.4,8.6),(40.5,3.7),(40.67,2.0),(40.8,1.2),(40.96,0.7),(41.1,0.46),(41.3,0.34),(41.6,0.25),(41.85,0.2),(42.1,0.16),(42.5,0.15),(42.9,0.13),(43.3,0.14),(43.7,0.13),(44.2,0.11),(44.6,0.096),(44.9,0.083),(45.3,0.07),(45.85,0.096),(46.2,0.1),(46.6,0.096),(47.0,0.078),(47.5,0.063),(48.1,0.057),(48.6,0.096),(49.2,0.096),(49.7,0.086),(50.3,0.073),(50.9,0.06),
        (51.5,0.040),(52.1,0.035),(52.7,0.042),(53.3,0.038),(53.9,0.045),(54.5,0.040),(54.9,0.048)]
d_40_core = [(39.25,12),(39.35,25),(39.45,55),(39.55,130),(39.7,320),(39.85,750),(39.95,1150),(40.03,900),(40.1,330),(40.18,110),(40.25,40),(40.35,14),(40.45,5.5),(40.58,2.7),(40.73,1.5),(40.88,0.9)]
d_50 = [(0.2,0.036),(1.0,0.030),(1.8,0.038),(2.6,0.032),(3.4,0.036),(4.2,0.030),(5.0,0.034),(5.8,0.038),(6.6,0.030),(7.7,0.017),(8.4,0.034),(9.2,0.038),(10.0,0.032),(10.8,0.036),(11.6,0.030),(12.4,0.038),(13.2,0.034),(14.0,0.040),(14.8,0.036),(15.6,0.032),(16.4,0.038),(17.2,0.034),(18.0,0.030),(18.6,0.018),(19.4,0.036),(20.2,0.040),(21.0,0.034),(21.8,0.038),(22.6,0.032),(23.4,0.036),(24.2,0.040),(25.0,0.034),(25.8,0.038),(26.6,0.042),(27.4,0.036),(28.2,0.040),(29.0,0.038),(29.8,0.034),(30.6,0.040),(31.4,0.044),(32.2,0.038),(33.0,0.042),(33.8,0.036),(34.6,0.044),(35.4,0.040),(36.2,0.046),(37.0,0.042),(37.8,0.048),
        (38.6,0.057),(39.3,0.050),(39.9,0.063),(40.5,0.060),(41.0,0.078),(41.6,0.070),(42.1,0.096),(42.7,0.085),(43.3,0.10),(43.9,0.11),(44.4,0.13),(45.1,0.15),(45.85,0.16),(46.6,0.16),(47.0,0.2),(47.3,0.27),(47.7,0.37),(48.1,0.46),(48.4,0.57),(48.8,0.78),(49.1,1.2),(49.25,2.5),(49.3,5.7),
        (49.4,13),(49.5,25),(49.6,57),(49.7,130),(49.8,300),(49.9,480),(49.96,245),(50.04,106),(50.1,46),(50.2,25),(50.3,10.6),(50.5,4.6),(50.67,2.5),(50.85,1.6),(51.0,1.06),(51.2,0.78),(51.4,0.57),(51.8,0.42),(52.1,0.34),(52.5,0.27),(52.9,0.25),(53.3,0.22),(53.6,0.22),(54.0,0.22),(54.4,0.2),(54.7,0.2)]
d_50_core = [(49.35,9),(49.45,18),(49.55,40),(49.65,90),(49.75,200),(49.85,400),(49.93,350),(50.0,160),(50.07,70),(50.15,33),(50.25,16),(50.4,7),(50.58,3.4),(50.75,2.0),(50.92,1.3)]

panel_series = [[a_10 + a_10_core, a_20 + a_20_core, a_30 + a_30_core, a_40 + a_40_core, a_50 + a_50_core],
                [b_10 + b_10_core, b_20 + b_20_core, b_30 + b_30_core, b_40 + b_40_core, b_50 + b_50_core],
                [c_10 + c_10_core, c_20 + c_20_core, c_30 + c_30_core, c_40 + c_40_core, c_50 + c_50_core],
                [d_10 + d_10_core, d_20 + d_20_core, d_30 + d_30_core, d_40 + d_40_core, d_50 + d_50_core]]

# ---------------- building ----------------
x_minor = list(range(0, 56))
y_minor = [k * 10.0 ** n for n in range(-4, 6) for k in range(2, 10)]


def make_panel(idx, width, height, bl, br, bt, bb, letter_offset):
    p = figure(width=width, height=height, x_range=Range1d(0, 55), y_range=Range1d(1e-4, 1e6),
               y_axis_type="log", output_backend="svg", toolbar_location=None,
               title=panel_letters[idx],
               min_border_left=bl, min_border_right=br, min_border_top=bt, min_border_bottom=bb)
    p.outline_line_color = None
    p.background_fill_color = "white"
    p.border_fill_color = "white"

    p.title.text_font = FONT
    p.title.text_font_size = "21px"
    p.title.text_font_style = "normal"
    p.title.text_color = "black"
    p.title.align = "left"
    p.title.vertical_align = "bottom"
    p.title.offset = letter_offset
    p.title.standoff = -20

    xt = FixedTicker(ticks=x_tick_values, minor_ticks=x_minor)
    yt = FixedTicker(ticks=y_tick_values, minor_ticks=y_minor)
    p.xaxis.ticker = xt
    p.yaxis.ticker = yt
    p.xgrid.ticker = xt
    p.ygrid.ticker = yt
    p.xaxis.formatter = CustomJSTickFormatter(args=dict(v=x_tick_values, l=x_tick_labels), code="""
        for (let i = 0; i < v.length; i++) { if (Math.abs(tick - v[i]) < 1e-9) return l[i]; }
        return "";""")
    p.yaxis.formatter = CustomJSTickFormatter(args=dict(v=y_tick_values, l=y_tick_labels), code="""
        for (let i = 0; i < v.length; i++) { if (Math.abs(Math.log10(tick) - Math.log10(v[i])) < 1e-6) return l[i]; }
        return "";""")

    for g in (p.xgrid, p.ygrid):
        g.grid_line_color = "#e2e2e2"
        g.grid_line_width = 1.5
        g.minor_grid_line_color = "#efefef"
        g.minor_grid_line_width = 1

    for ax in (p.xaxis, p.yaxis):
        ax.axis_line_color = "black"
        ax.axis_line_width = 2
        ax.major_tick_line_color = "black"
        ax.major_tick_line_width = 1.5
        ax.major_tick_in = 5
        ax.major_tick_out = 0
        ax.minor_tick_line_color = None
        ax.major_label_text_font = FONT
        ax.major_label_text_color = "black"
        ax.axis_label_text_font = FONT
        ax.axis_label_text_font_size = "21px"
        ax.axis_label_text_font_style = "normal"
        ax.axis_label_text_color = "black"
    p.xaxis.major_label_text_font_size = "17px"
    p.yaxis.major_label_text_font_size = "18px"
    p.xaxis.axis_label = x_label
    p.yaxis.axis_label = y_label
    p.xaxis.major_label_standoff = 15
    p.xaxis.axis_label_standoff = 5
    p.yaxis.major_label_standoff = 2
    p.yaxis.axis_label_standoff = 2

    for pts, col in zip(panel_series[idx], series_colors):
        xs = [q[0] for q in pts]
        ys = [q[1] for q in pts]
        p.scatter(xs, ys, size=6, fill_color=col, line_color=col, line_width=0.5)

    # title box
    p.add_layout(BoxAnnotation(left=3.33, right=51.8, top=10 ** 5.835, bottom=10 ** 4.57,
                               fill_color="white", fill_alpha=1.0, line_color="#444444", line_width=1.2))
    p.add_layout(Label(x=27.57, y=10 ** 5.51, text=title_line, text_align="center", text_baseline="middle",
                       text_font=FONT, text_font_size="18.5px", text_color="black"))
    p.add_layout(Label(x=27.57, y=10 ** 4.85, text=panel_conditions[idx], text_align="center",
                       text_baseline="middle", text_font=FONT, text_font_size="18.5px", text_color="black"))

    # legend box
    p.add_layout(BoxAnnotation(left=5.3, right=49.7, top=10 ** -3.08, bottom=10 ** -3.70,
                               fill_color="white", fill_alpha=1.0, line_color="#444444", line_width=1.2))
    ly = 10 ** -3.39
    p.add_layout(Label(x=5.3, y=ly, x_offset=6, text=legend_prefix, text_align="left", text_baseline="middle",
                       text_font=FONT, text_font_size="18px", text_color="black"))
    num_offsets = [211, 249, 287, 324, 362]
    comma_offsets = [239, 277, 315, 353]
    for k, (lab, col) in enumerate(zip(incident_angles, series_colors)):
        p.add_layout(Label(x=5.3, y=ly, x_offset=num_offsets[k], text=lab, text_align="left",
                           text_baseline="middle", text_font=FONT, text_font_size="18px", text_color=col))
        if k < 4:
            p.add_layout(Label(x=5.3, y=ly, x_offset=comma_offsets[k], text=",", text_align="left",
                               text_baseline="middle", text_font=FONT, text_font_size="18px",
                               text_color="black"))
    return p


pa = make_panel(0, 612, 448, 95, 22, 20, 64, -86)
pb = make_panel(1, 594, 448, 102, 0, 20, 64, -82)
pc = make_panel(2, 612, 445, 95, 22, 17, 64, -86)
pd = make_panel(3, 594, 445, 102, 0, 17, 64, -82)

layout = column(row(pa, pb), row(pc, pd))

with open("out.html", "w") as f:
    f.write(file_html(layout, INLINE))
